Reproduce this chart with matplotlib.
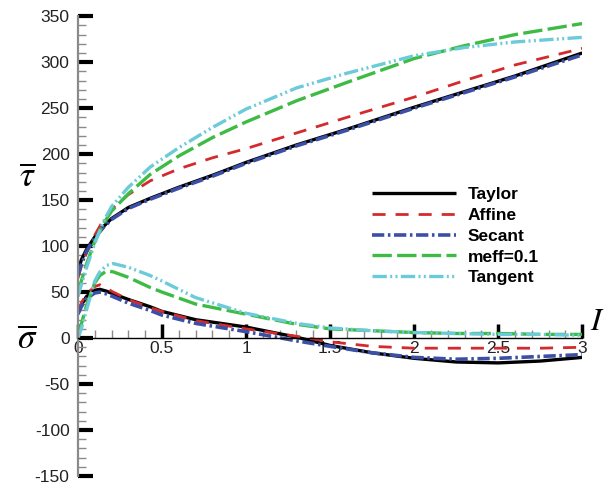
import numpy as np
import matplotlib.pyplot as plt
from matplotlib.ticker import MultipleLocator

plt.rcParams['font.family'] = ['Liberation Sans', 'DejaVu Sans']
plt.rcParams['mathtext.fontset'] = 'stix'
plt.rcParams['axes.unicode_minus'] = False

# shear stress (upper family) vs I
I_tau = [0.0, 0.02, 0.05, 0.1, 0.15, 0.2, 0.3, 0.43, 0.6, 0.8, 1.0, 1.3, 1.6, 2.0, 2.3, 2.6, 3.0]
tau_taylor = [72, 85, 96, 110, 121, 130, 142, 152, 164, 177, 191, 210, 227, 251, 268, 285, 310]
tau_affine = [65, 78, 92, 112, 128, 140, 156, 171, 184, 196, 206, 223, 240, 262, 280, 297, 315]
tau_secant = [68, 80, 94, 109, 120, 129, 141, 151, 163, 176, 190, 209, 226, 250, 267, 284, 308]
tau_meff = [50, 62, 80, 105, 124, 138, 157, 178, 198, 218, 235, 258, 278, 304, 318, 330, 342]
tau_tangent = [45, 58, 76, 103, 126, 143, 164, 186, 207, 229, 249, 272, 288, 307, 316, 322, 327]

# normal stress (lower family) vs I
I_sig = [0.0, 0.02, 0.05, 0.1, 0.13, 0.17, 0.21, 0.3, 0.43, 0.5, 0.7, 1.0, 1.3, 1.5, 1.75, 2.0, 2.25, 2.5, 2.75, 3.0]
sig_taylor = [28, 36, 45, 52, 53, 51, 48, 42, 34, 29, 20, 12, 1, -8, -16, -22, -26, -27, -25, -21]
sig_affine = [30, 38, 48, 56, 58, 54, 50, 42, 33, 29, 19, 10, 2, -4, -9, -11, -11, -11, -11, -10]
sig_secant = [26, 34, 43, 49, 50, 48, 45, 38, 30, 25, 16, 7, -3, -9, -16, -21, -23, -22, -20, -18]
sig_meff = [5, 15, 35, 60, 68, 73, 72, 66, 55, 50, 37, 26, 15, 10, 8, 6, 5, 5, 4, 4]
sig_tangent = [0, 10, 30, 62, 72, 79, 81, 77, 68, 62, 44, 27, 16, 11, 8, 6, 5, 4, 4, 3]

labels = ['Taylor', 'Affine', 'Secant', 'meff=0.1', 'Tangent']
colors = ['#000000', '#d42a2e', '#3a4fa5', '#3dbb44', '#6ccbd8']
widths = [2.4, 2.0, 2.6, 2.4, 2.4]
dashes = [None, (4.7, 3.6), (3.4, 1.0, 0.7, 1.0), (5.8, 1.6), (4.3, 1.0, 0.6, 1.0, 0.6, 1.0)]

fig = plt.figure(figsize=(6.09, 4.84), dpi=100)
ax = fig.add_axes([0.128, 0.0165, 0.828, 0.950])

tau_sets = [tau_taylor, tau_affine, tau_secant, tau_meff, tau_tangent]
sig_sets = [sig_taylor, sig_affine, sig_secant, sig_meff, sig_tangent]
for k in range(5):
    kw = dict(color=colors[k], lw=widths[k], solid_capstyle='butt', dash_capstyle='butt')
    if dashes[k] is None:
        ax.plot(I_tau, tau_sets[k], '-', label=labels[k], **kw)
        ax.plot(I_sig, sig_sets[k], '-', **kw)
    else:
        ax.plot(I_tau, tau_sets[k], dashes=dashes[k], label=labels[k], **kw)
        ax.plot(I_sig, sig_sets[k], dashes=dashes[k], **kw)

ax.set_xlim(0, 3)
ax.set_ylim(-150, 350)

for side in ['top', 'right']:
    ax.spines[side].set_visible(False)
ax.spines['bottom'].set_position(('data', 0))
ax.spines['bottom'].set_color('black')
ax.spines['bottom'].set_linewidth(1.0)
ax.spines['left'].set_color('#8a8a8a')
ax.spines['left'].set_linewidth(1.6)

ax.xaxis.set_minor_locator(MultipleLocator(0.1))
ax.yaxis.set_major_locator(MultipleLocator(50))
ax.yaxis.set_minor_locator(MultipleLocator(10))
ax.set_xticks([0, 0.5, 1, 1.5, 2, 2.5, 3])
ax.set_xticklabels(['0', '0.5', '1', '1.5', '2', '2.5', '3'])

ax.tick_params(axis='y', which='major', direction='in', length=11, width=3,
               color='black', labelsize=12.5, labelcolor='#222222', pad=6)
ax.tick_params(axis='y', which='minor', direction='in', length=6, width=1,
               color='#8a8a8a')
ax.tick_params(axis='x', which='major', direction='in', length=10, width=2.5,
               color='black', labelsize=12.5, labelcolor='#222222', pad=2)
ax.tick_params(axis='x', which='minor', direction='in', length=6, width=1,
               color='#8a8a8a')

fig.text(0.045, 0.635, r'$\overline{\tau}$', fontsize=25, ha='center', va='center')
fig.text(0.045, 0.300, r'$\overline{\sigma}$', fontsize=25, ha='center', va='center')
fig.text(0.980, 0.335, r'$I$', fontsize=23, ha='center', va='center')

ax.legend(loc='upper left', bbox_to_anchor=(0.553, 0.662), frameon=False,
          handlelength=4.8, handletextpad=0.7, labelspacing=0.32,
          prop={'weight': 'bold', 'size': 12.5})

fig.savefig('out.png', dpi=100)
